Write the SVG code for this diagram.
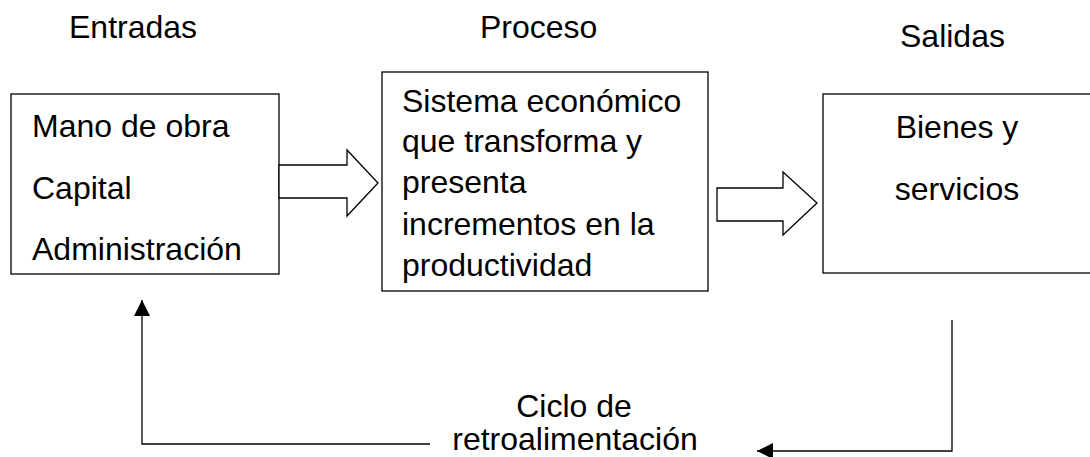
<svg xmlns="http://www.w3.org/2000/svg" width="1090" height="457" viewBox="0 0 1090 457">
<style>
.t{font-family:"Liberation Sans",Arial,sans-serif;font-size:32px;fill:#000}
.box{fill:#fff;stroke:#000;stroke-width:1.3}
.ln{fill:none;stroke:#000;stroke-width:1.3}
</style>
<defs>
<marker id="ah" markerWidth="16" markerHeight="16" refX="16" refY="8" orient="auto" markerUnits="userSpaceOnUse">
<path d="M0,0 L16,8 L0,16 Z" fill="#000"/>
</marker>
</defs>
<rect width="1090" height="457" fill="#fff"/>
<g id="headers">
<text class="t" x="69" y="38">Entradas</text>
<text class="t" x="480" y="38">Proceso</text>
<text class="t" x="900" y="47">Salidas</text>
</g>
<g id="entradas">
<rect class="box" x="11" y="94" width="268" height="180"/>
<text class="t" x="32" y="137">Mano de obra</text>
<text class="t" x="32" y="199">Capital</text>
<text class="t" x="32" y="260">Administración</text>
</g>
<g id="proceso">
<rect class="box" x="382" y="72" width="326" height="219"/>
<text class="t" x="402" y="112">Sistema económico</text>
<text class="t" x="402" y="152">que transforma y</text>
<text class="t" x="402" y="193">presenta</text>
<text class="t" x="402" y="235">incrementos en la</text>
<text class="t" x="402" y="276">productividad</text>
</g>
<g id="salidas">
<rect class="box" x="823" y="94" width="280" height="179"/>
<text class="t" x="957" y="138" text-anchor="middle">Bienes y</text>
<text class="t" x="957" y="200" text-anchor="middle">servicios</text>
</g>
<g id="feedback-label">
<text class="t" x="574" y="417" text-anchor="middle">Ciclo de</text>
<text class="t" x="575" y="450" text-anchor="middle">retroalimentación</text>
</g>
<g id="connectors">
<polygon class="box" points="279,165 347,165 347,150 378,183 347,216 347,198 279,198"/>
<polygon class="box" points="717,188 783,188 783,172 817,203 783,235 783,221 717,221"/>
<polyline class="ln" points="952,320 952,451 757,451" marker-end="url(#ah)"/>
<polyline class="ln" points="430,444 142,444 142,300" marker-end="url(#ah)"/>
</g>
</svg>
